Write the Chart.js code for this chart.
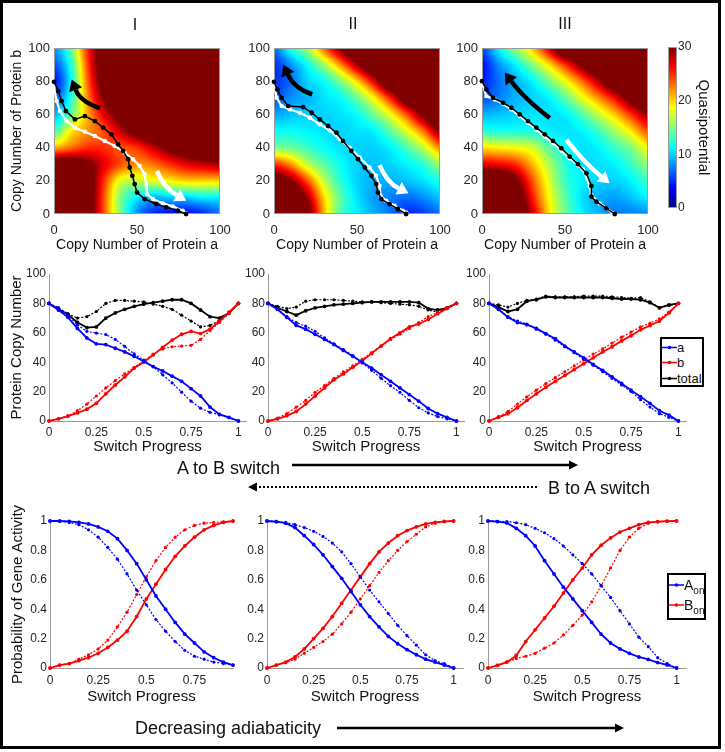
<!DOCTYPE html>
<html>
<head>
<meta charset="utf-8">
<title>Switch progress and quasipotential</title>
<script src="https://cdn.jsdelivr.net/npm/chart.js@4.4.1/dist/chart.umd.min.js"></script>
<style>
  html, body { margin: 0; padding: 0; background: #fff; }
  body { position: relative; width: 725px; height: 752px; overflow: hidden;
         font-family: "Liberation Sans", Arial, Helvetica, sans-serif; color: #111; }
  canvas { position: absolute; }
  .txt { position: absolute; white-space: nowrap; line-height: 1; }
  .mid { transform: translate(-50%, -50%); }
  .left { transform: translateY(-50%); }
  .legend { position: absolute; border: 2px solid #000; background: #fff; }
  .legend .row { position: absolute; left: 0; display: flex; align-items: center;
                 transform: translateY(-50%); white-space: nowrap; line-height: 1; }
  .legend svg { display: block; }
  sub { font-size: 10px; vertical-align: -4px; line-height: 0; }
</style>
</head>
<body>
<canvas id="overlay" width="725" height="752" style="left:0;top:0"></canvas>

<canvas id="heatI"></canvas>
<canvas id="heatII"></canvas>
<canvas id="heatIII"></canvas>
<canvas id="colorbar"></canvas>

<canvas id="copyI"></canvas>
<canvas id="copyII"></canvas>
<canvas id="copyIII"></canvas>

<canvas id="probI"></canvas>
<canvas id="probII"></canvas>
<canvas id="probIII"></canvas>

<div class="txt mid" style="left:135px;top:25px;font-size:16px">I</div>
<div class="txt mid" style="left:353px;top:24px;font-size:16px">II</div>
<div class="txt mid" style="left:565px;top:24px;font-size:16px">III</div>

<div class="txt left" style="left:177px;top:468px;font-size:18px">A to B switch</div>
<div class="txt left" style="left:548px;top:488px;font-size:18px">B to A switch</div>
<div class="txt left" style="left:135px;top:728px;font-size:18px">Decreasing adiabaticity</div>

<div class="legend" style="left:660px;top:337px;width:40px;height:46px;font-size:13px">
  <div class="row" style="top:8px"><svg width="15" height="8"><line x1="0" y1="4" x2="15" y2="4" stroke="#0000ff" stroke-width="1.5"/><circle cx="7.5" cy="4" r="1.8" fill="#0000ff"/></svg><span>a</span></div>
  <div class="row" style="top:23px"><svg width="15" height="8"><line x1="0" y1="4" x2="15" y2="4" stroke="#ff0000" stroke-width="1.5"/><circle cx="7.5" cy="4" r="1.8" fill="#ff0000"/></svg><span>b</span></div>
  <div class="row" style="top:39px"><svg width="15" height="8"><line x1="0" y1="4" x2="15" y2="4" stroke="#000" stroke-width="1.5"/><circle cx="7.5" cy="4" r="1.8" fill="#000"/></svg><span>total</span></div>
</div>

<div class="legend" style="left:667px;top:573px;width:35px;height:43px;font-size:14px">
  <div class="row" style="top:10px"><svg width="15" height="8"><line x1="0" y1="4" x2="15" y2="4" stroke="#0000ff" stroke-width="1.5"/><circle cx="7.5" cy="4" r="1.8" fill="#0000ff"/></svg><span>A<sub>on</sub></span></div>
  <div class="row" style="top:30px"><svg width="15" height="8"><line x1="0" y1="4" x2="15" y2="4" stroke="#ff0000" stroke-width="1.5"/><circle cx="7.5" cy="4" r="1.8" fill="#ff0000"/></svg><span>B<sub>on</sub></span></div>
</div>

<script>
// ---- data -------------------------------------------------------------

// switch progress samples
const progress = [0, 0.05, 0.1, 0.15, 0.2, 0.25, 0.3, 0.35, 0.4, 0.45, 0.5,
                  0.55, 0.6, 0.65, 0.7, 0.75, 0.8, 0.85, 0.9, 0.95, 1];
const progressShort = progress.slice(0, 20);

// tick labels
const heatXTicks = [0, 50, 100];
const heatYTicks = [0, 20, 40, 60, 80, 100];
const barTicks = [0, 10, 20, 30];
const copyTicks = [0, 20, 40, 60, 80, 100];
const probTicks = [0, 0.2, 0.4, 0.6, 0.8, 1];
const progressTicks = [0, 0.25, 0.5, 0.75, 1];
const progressTicksShort = [0, 0.25, 0.5, 0.75];

// quasipotential, rows b = 100 .. 0, columns a = 0 .. 100
const gridLevels = [0, 10, 20, 30, 40, 50, 60, 70, 80, 90, 100];
const QMAX = 30;
const potentialI = [
  [ 8, 14, 25, 33, 35, 35, 35, 35, 35, 35, 35],
  [ 6, 12, 24, 33, 35, 35, 35, 35, 35, 35, 35],
  [ 4, 11, 23, 32, 35, 35, 35, 35, 35, 35, 35],
  [ 6, 12, 22, 30, 35, 35, 35, 35, 35, 35, 35],
  [ 9, 14, 21, 27, 32, 35, 35, 35, 35, 35, 35],
  [13, 19, 22, 24, 28, 32, 35, 35, 35, 35, 35],
  [21, 23, 25, 25, 24, 25, 28, 31, 33, 34, 34],
  [33, 33, 31, 27, 24, 22, 23, 25, 27, 28, 29],
  [35, 35, 33, 25, 18, 17, 18, 19, 20, 20, 20],
  [35, 35, 33, 24, 15, 11,  9, 10, 10, 11, 11],
  [35, 35, 33, 24, 15,  8,  5,  4,  4,  5,  7]
];
const potentialII = [
  [ 7, 12, 16, 23, 30, 35, 35, 35, 35, 35, 35],
  [ 5,  8, 11.5, 16, 22, 29, 35, 35, 35, 35, 35],
  [ 5,  7, 10, 11.5, 15, 20, 27, 35, 35, 35, 35],
  [ 6,  8,  9, 10.5, 11.5, 14.5, 19, 25.5, 33, 35, 35],
  [ 8.5, 9.5, 10, 10, 10.5, 11.5, 14.5, 18.5, 24, 31, 35],
  [11.5, 11.5, 11, 10.5, 10, 10.5, 11, 14, 18, 23, 30],
  [15, 14.5, 13, 11.5, 10.5, 10, 10, 11, 13.5, 17, 22],
  [25, 22, 17, 14, 11.5, 10, 9.5, 10, 11, 12.5, 16],
  [33, 30, 24, 17, 12.5, 10, 9, 9, 9.5, 10.5, 12],
  [35, 35, 29, 20, 14, 10.5, 8.5, 7.5, 7, 8, 9.5],
  [35, 35, 32, 21, 13.5, 11, 9, 7, 5, 5.5, 7]
];
const potentialIII = [
  [ 6, 11, 15.5, 20, 27, 35, 35, 35, 35, 35, 35],
  [ 4,  8, 11, 15, 19.5, 25, 30.5, 35, 35, 35, 35],
  [ 4.5, 7, 9, 11, 14.5, 18.5, 23, 28.5, 34, 35, 35],
  [ 6, 7.5, 9, 10, 11, 14, 18, 22, 26.5, 32, 35],
  [ 9, 9.5, 10, 10.5, 10.5, 11, 13.5, 17, 20.5, 25, 29.5],
  [12.5, 12, 12, 12, 11, 10.5, 11, 13, 16, 19.5, 24],
  [19.5, 19, 18.5, 17.5, 14, 11.5, 10.5, 11, 13, 15, 19],
  [27, 26.5, 25, 21, 16.5, 12.5, 10.5, 10.5, 11, 13, 15.5],
  [35, 35, 31, 24, 18, 13, 11, 10, 10, 11, 13],
  [35, 35, 34, 26, 19, 14, 10.5, 9, 8.5, 9.5, 11],
  [35, 35, 35, 28, 20, 14.5, 11, 9, 7.5, 7.5, 8]
];

// switching trajectories [a, b]
const pathBlackI = [[0,79.6],[2.6,74],[4.6,68],[7.2,62],[12.6,57],[18.6,59],[24.6,56],[29.6,52],[34.6,48],[38.6,42],[41.6,38],[44.6,33],[45.6,28],[47.2,23],[48.6,18],[50,13],[54.6,9],[61.6,6],[67.6,4],[74.6,2],[79.6,0]];
const pathWhiteI = [[0,77],[1.6,68],[3.6,62],[7.6,56],[12.6,52],[18.6,49.6],[24.6,47],[30.6,44],[36.6,41],[42.6,37],[47.6,33],[51.6,29],[54.6,24],[55.6,18],[56,12],[59.6,9],[65.6,6.4],[71.6,4.6],[77.6,2],[79.6,0.4]];
const pathBlackII = [[0,79.6],[2,75],[4.6,70],[8.6,65],[17.6,64.4],[22.6,61],[27.6,57],[32.6,53],[37.6,49],[41.6,44],[46.6,38],[50.6,33],[54.6,28],[58.6,23],[61.6,18],[62.6,13],[64.6,9],[69.6,6],[74.6,3],[79.6,0]];
const pathWhiteII = [[0,78],[1.6,70],[4.6,65],[9.6,63],[15.6,61],[21.6,58],[27.6,54],[33.6,50.4],[39.6,45],[45.6,40],[51.6,34],[57.6,28],[61.6,23],[63.6,17],[64.2,11],[67.6,8],[72.6,5],[77.6,2],[79.6,1]];
const pathBlackIII = [[0,80],[2.6,75],[6.6,70],[12.7,67],[17.7,64],[22.7,60],[27.7,56],[32.7,52],[37.8,48],[42.8,44],[47.8,39.6],[52.8,34.6],[57.8,30],[62.9,24.5],[65.9,16.9],[65.9,10.5],[68.9,7.4],[74.9,3.4],[80,0]];
const pathWhiteIII = [[0,79],[2.6,71],[7.6,69],[12.7,66.4],[17.7,63],[22.7,59],[27.7,55],[32.7,50.7],[37.8,46.7],[42.8,42.7],[47.8,38.2],[52.8,33.6],[57.8,29.3],[60.8,27],[64.9,16.5],[65.9,11.5],[70.9,6.4],[75,3.5],[78.9,0.4]];

// protein copy numbers (Fwd = A to B, Rev = B to A)
const aFwdI   = [80, 75.5, 70.5, 63, 56.5, 52.5, 52, 49.5, 47, 44, 40.5, 37, 34, 30.5, 27, 22, 17, 9.5, 4.5, 2.5, 0];
const aRevI   = [80, 77, 72, 65.4, 61, 59.8, 58.8, 55.5, 50.7, 45.6, 41.4, 37, 31.4, 26, 19.6, 13.5, 8.7, 5.9, 4.2, 2.2, 0];
const bFwdI   = [0, 1.5, 3.3, 5.5, 8, 12, 18.5, 24.5, 30, 36, 40, 45, 50, 55, 59, 61, 59.5, 62.5, 68, 74, 80];
const bRevI   = [0, 1.5, 3.5, 7, 11.5, 17, 22.5, 27.5, 32, 36.5, 41, 45.5, 49, 50.5, 51, 51.5, 55.5, 61.5, 67, 73, 80];
const totFwdI = [80, 76, 72.5, 67, 63.5, 64, 70, 73.5, 76, 78, 79.5, 80.5, 81.5, 82.5, 82.5, 80, 75.5, 71, 70, 73.5, 80];
const totRevI = [80, 77, 73, 70, 71, 74.5, 80, 82, 82, 81.5, 81, 79.5, 78, 76, 72, 68, 64, 65, 68.5, 73.5, 80];

const aFwdII   = [80, 76, 70.5, 65, 62.5, 59, 55.5, 52, 48, 44, 40, 36, 31.5, 27, 22.5, 18, 13.5, 8.5, 5, 2.5, 0];
const aRevII   = [80, 76, 71, 67, 64.5, 61, 56.5, 52.5, 48.5, 44.5, 39.5, 34.5, 29, 24, 19.5, 14, 9, 5.5, 3, 1.5, 0];
const bFwdII   = [0, 1.5, 3.5, 6.5, 11.5, 17, 22.5, 28, 32, 36.5, 41, 46, 51, 56, 60, 64, 66, 69, 73, 76.5, 80];
const bRevII   = [0, 2, 5, 9.5, 14, 19.5, 24, 29, 33.5, 37.5, 42, 46.5, 51, 55.5, 59, 63, 67, 71, 74, 77, 80];
const totFwdII = [80, 77, 74.5, 72, 75, 77, 78, 79, 79.5, 80, 80.5, 81, 81, 81, 81, 81, 80.5, 76.5, 75.5, 77, 80];
const totRevII = [80, 78, 76.5, 77.5, 81.5, 82.5, 82.5, 82.5, 82, 81.5, 81, 81, 80.5, 80, 79.5, 79, 78, 75.5, 74, 76.5, 80];

const aFwdIII   = [80, 76, 70.5, 67, 65.5, 63, 59.5, 56, 51, 47, 43, 38.5, 34.5, 30, 25.5, 21, 16.5, 12, 7, 4, 0];
const aRevIII   = [80, 76, 71, 68, 66, 62.5, 59, 55, 50.5, 46.5, 42, 38, 33.5, 29, 24.5, 20, 14.5, 9.5, 5, 2.5, 0];
const bFwdIII   = [0, 2.5, 5, 9, 14, 18.5, 23, 27, 31, 35, 39, 43, 47, 50.5, 54.5, 58, 62, 65, 68, 73.5, 80];
const bRevIII   = [0, 3, 6.5, 11.5, 16.5, 21, 25.5, 29.5, 33.5, 37.5, 41.5, 45.5, 49, 53, 57, 60.5, 64, 66.5, 69.5, 74, 80];
const totFwdIII = [80, 77.5, 74.5, 76, 81.5, 82.5, 84.5, 84, 84, 84, 84, 84, 84, 83.5, 83, 83, 82.5, 80.5, 77, 79, 80];
const totRevIII = [80, 79, 77.5, 80, 82, 83, 85, 84.5, 84.5, 84.5, 85, 85, 85, 84.5, 84, 83.5, 84, 81, 77, 78.5, 80];

// probability of gene activity
const aOnFwdI = [1.0, 1.0, 0.997, 0.99, 0.98, 0.96, 0.93, 0.88, 0.80, 0.71, 0.60, 0.49, 0.40, 0.31, 0.23, 0.17, 0.11, 0.07, 0.04, 0.02];
const aOnRevI = [1.0, 0.998, 0.99, 0.975, 0.94, 0.89, 0.82, 0.74, 0.64, 0.53, 0.43, 0.33, 0.25, 0.18, 0.12, 0.08, 0.06, 0.04, 0.03, 0.02];
const bOnFwdI = [0, 0.02, 0.03, 0.05, 0.07, 0.10, 0.14, 0.19, 0.25, 0.35, 0.47, 0.57, 0.67, 0.76, 0.83, 0.89, 0.94, 0.97, 0.99, 1.0];
const bOnRevI = [0, 0.02, 0.03, 0.06, 0.09, 0.13, 0.19, 0.28, 0.38, 0.50, 0.62, 0.73, 0.82, 0.89, 0.94, 0.97, 0.985, 0.99, 0.995, 1.0];

const aOnFwdII = [1.0, 0.995, 0.985, 0.955, 0.90, 0.84, 0.77, 0.69, 0.61, 0.52, 0.43, 0.35, 0.28, 0.215, 0.165, 0.125, 0.09, 0.06, 0.04, 0.02, 0.0];
const aOnRevII = [1.0, 0.997, 0.99, 0.975, 0.955, 0.93, 0.895, 0.85, 0.79, 0.71, 0.62, 0.53, 0.45, 0.37, 0.29, 0.22, 0.155, 0.09, 0.05, 0.03, 0.0];
const bOnFwdII = [0, 0.02, 0.04, 0.075, 0.13, 0.2, 0.27, 0.35, 0.44, 0.53, 0.62, 0.71, 0.79, 0.85, 0.90, 0.935, 0.96, 0.98, 0.99, 0.997, 1.0];
const bOnRevII = [0, 0.02, 0.035, 0.06, 0.1, 0.14, 0.18, 0.23, 0.3, 0.38, 0.47, 0.56, 0.65, 0.73, 0.80, 0.86, 0.91, 0.96, 0.985, 0.995, 1.0];

const aOnFwdIII = [1.0, 0.996, 0.987, 0.95, 0.90, 0.83, 0.73, 0.64, 0.55, 0.47, 0.39, 0.31, 0.23, 0.17, 0.13, 0.10, 0.075, 0.058, 0.037, 0.021, 0.0];
const aOnRevIII = [1.0, 0.998, 0.996, 0.988, 0.975, 0.95, 0.92, 0.88, 0.83, 0.77, 0.71, 0.64, 0.56, 0.48, 0.39, 0.30, 0.21, 0.145, 0.07, 0.03, 0.0];
const bOnFwdIII = [0, 0.018, 0.04, 0.085, 0.18, 0.26, 0.34, 0.42, 0.51, 0.60, 0.68, 0.77, 0.835, 0.885, 0.925, 0.95, 0.975, 0.99, 0.995, 0.999, 1.0];
const bOnRevIII = [0, 0.02, 0.04, 0.065, 0.08, 0.10, 0.135, 0.17, 0.225, 0.29, 0.36, 0.45, 0.56, 0.68, 0.80, 0.89, 0.95, 0.985, 0.995, 0.999, 1.0];

// big curved arrows on the landscapes, in [a, b]
const arrowsI = [
  { from: [27.7, 63.8], via: [16, 67.5], to: [10.6, 81], color: '#000' },
  { from: [62, 26], via: [66, 16], to: [79.6, 8], color: '#fff' }
];
const arrowsII = [
  { from: [23, 72], via: [12, 76], to: [5.6, 90], color: '#000' },
  { from: [63.6, 29.5], via: [68, 19], to: [81, 12.5], color: '#fff' }
];
const arrowsIII = [
  { from: [40.8, 57.8], via: [25, 70], to: [13.7, 85.3], color: '#000' },
  { from: [50.8, 44.7], via: [62, 30.5], to: [76.9, 18.5], color: '#fff' }
];

// ---- look ----------------------------------------------------------------

Chart.defaults.font.family = '"Liberation Sans", Arial, Helvetica, sans-serif';
const INK = '#111111';
const TICK = '#262626';
const AXIS = '#9a9a9a';
const BLUE = '#0000ff';
const RED = '#ff0000';
const BLACK = '#000000';
const PAD_T = 16;
const PAD_R = 24;
const NO_GRID = { display: false, drawTicks: false };

// size and position a canvas so its plot area lands on `area`
function place(id, area, yw, xh) {
  const cv = document.getElementById(id);
  cv.width = Math.round(yw + (area.right - area.left) + PAD_R);
  cv.height = Math.round(PAD_T + (area.bottom - area.top) + xh);
  cv.style.left = (area.left - yw) + 'px';
  cv.style.top = (area.top - PAD_T) + 'px';
  return cv;
}

// matlab jet colormap
function jet(t) {
  t = Math.min(Math.max(t, 0), 1);
  const f = v => Math.round(255 * Math.min(Math.max(v, 0), 1));
  return [f(1.5 - Math.abs(4 * t - 3)), f(1.5 - Math.abs(4 * t - 2)), f(1.5 - Math.abs(4 * t - 1))];
}

// smooth (catmull-rom) read of the grid between its nodes
function cubic(p0, p1, p2, p3, t) {
  return p1 + 0.5 * t * (p2 - p0 + t * (2 * p0 - 5 * p1 + 4 * p2 - p3 + t * (3 * (p1 - p2) + p3 - p0)));
}
function sampleGrid(grid, a, b) {
  const n = gridLevels.length - 1;
  const step = gridLevels[1] - gridLevels[0];
  const top = gridLevels[n];
  const gx = Math.min(Math.max(a / step, 0), n);
  const gy = Math.min(Math.max((top - b) / step, 0), n);
  const i = Math.min(Math.floor(gx), n - 1);
  const j = Math.min(Math.floor(gy), n - 1);
  const fx = gx - i, fy = gy - j;
  const cl = k => Math.min(Math.max(k, 0), n);
  const rows = [-1, 0, 1, 2].map(d => {
    const r = grid[cl(j + d)];
    return cubic(r[cl(i - 1)], r[i], r[i + 1], r[cl(i + 2)], fx);
  });
  return cubic(rows[0], rows[1], rows[2], rows[3], fy);
}

// paints the quasipotential field under the trajectories
const fieldPlugin = {
  id: 'field',
  beforeDatasetsDraw(chart, args, opts) {
    const { ctx, chartArea: ca, scales: { x, y } } = chart;
    const x0 = Math.round(ca.left), y0 = Math.round(ca.top);
    const w = Math.round(ca.right) - x0, h = Math.round(ca.bottom) - y0;
    const img = ctx.createImageData(w, h);
    for (let j = 0; j < h; j++) {
      const b = y.getValueForPixel(y0 + j + 0.5);
      for (let i = 0; i < w; i++) {
        const a = x.getValueForPixel(x0 + i + 0.5);
        const c = jet(sampleGrid(opts.grid, a, b) / QMAX);
        const k = 4 * (j * w + i);
        img.data[k] = c[0];
        img.data[k + 1] = c[1];
        img.data[k + 2] = c[2];
        img.data[k + 3] = 255;
      }
    }
    ctx.putImageData(img, x0, y0);
    ctx.save();
    ctx.strokeStyle = AXIS;
    ctx.lineWidth = 1;
    ctx.strokeRect(x0 + 0.5, y0 + 0.5, w - 1, h - 1);
    ctx.restore();
  }
};

const arrowPlugin = {
  id: 'arrows',
  afterDatasetsDraw(chart, args, opts) {
    const { ctx, scales: { x, y } } = chart;
    const px = p => ({ x: x.getPixelForValue(p[0]), y: y.getPixelForValue(p[1]) });
    (opts.list || []).forEach(ar => {
      const p0 = px(ar.from), c = px(ar.via), p2 = px(ar.to);
      const ang = Math.atan2(p2.y - c.y, p2.x - c.x);
      const hl = 11, hw = 7;
      const bx = p2.x - hl * Math.cos(ang), by = p2.y - hl * Math.sin(ang);
      ctx.save();
      ctx.strokeStyle = ar.color;
      ctx.fillStyle = ar.color;
      ctx.lineWidth = 4.5;
      ctx.beginPath();
      ctx.moveTo(p0.x, p0.y);
      ctx.quadraticCurveTo(c.x, c.y, bx, by);
      ctx.stroke();
      ctx.beginPath();
      ctx.moveTo(p2.x, p2.y);
      ctx.lineTo(bx + hw * Math.sin(ang), by - hw * Math.cos(ang));
      ctx.lineTo(bx - hw * Math.sin(ang), by + hw * Math.cos(ang));
      ctx.closePath();
      ctx.fill();
      ctx.restore();
    });
  }
};

const barPlugin = {
  id: 'colorbar',
  beforeDatasetsDraw(chart) {
    const { ctx, chartArea: ca, scales: { y } } = chart;
    for (let py = Math.round(ca.top); py < Math.round(ca.bottom); py++) {
      const c = jet(y.getValueForPixel(py + 0.5) / QMAX);
      ctx.fillStyle = `rgb(${c[0]},${c[1]},${c[2]})`;
      ctx.fillRect(ca.left, py, ca.right - ca.left, 1);
    }
    ctx.strokeStyle = AXIS;
    ctx.lineWidth = 1;
    ctx.strokeRect(ca.left + 0.5, ca.top + 0.5, ca.right - ca.left - 1, ca.bottom - ca.top - 1);
  }
};

// ---- builders ------------------------------------------------------------

function pathSet(pts, color, width, radius) {
  return {
    data: pts.map(p => ({ x: p[0], y: p[1] })),
    showLine: true,
    borderColor: color,
    borderWidth: width,
    pointRadius: radius,
    pointBackgroundColor: color,
    pointBorderWidth: 0,
    clip: false
  };
}

function lineSet(xs, ys, color, dotted) {
  return {
    data: ys.map((v, i) => ({ x: xs[i], y: v })),
    borderColor: color,
    backgroundColor: color,
    borderWidth: dotted ? 1.2 : 1.8,
    borderDash: dotted ? [2, 1.6] : [],
    pointRadius: dotted ? 1.6 : 1.9,
    pointBorderWidth: 0,
    pointBackgroundColor: color,
    tension: 0,
    fill: false,
    clip: false
  };
}

function heatmap(id, area, grid, black, white, arrows, yTitle) {
  const yw = 54, xh = 42;
  const cv = place(id, area, yw, xh);
  return new Chart(cv, {
    type: 'scatter',
    data: { datasets: [pathSet(black, '#000', 1.5, 2.4), pathSet(white, '#fff', 2.2, 2.2)] },
    options: {
      responsive: false,
      animation: false,
      layout: { padding: { top: PAD_T, right: PAD_R, left: 0, bottom: 0 } },
      plugins: {
        legend: { display: false },
        tooltip: { enabled: false },
        field: { grid },
        arrows: { list: arrows }
      },
      scales: {
        x: {
          type: 'linear', min: 0, max: 100,
          afterBuildTicks: s => { s.ticks = heatXTicks.map(v => ({ value: v })); },
          afterFit: s => { s.height = xh; },
          grid: NO_GRID,
          border: { display: false },
          ticks: { autoSkip: false, maxRotation: 0, padding: 9, color: TICK, font: { size: 13 } },
          title: { display: true, text: 'Copy Number of Protein a', color: INK,
                   font: { size: 14 }, padding: { top: 0, bottom: 2 } }
        },
        y: {
          type: 'linear', min: 0, max: 100,
          afterBuildTicks: s => { s.ticks = heatYTicks.map(v => ({ value: v })); },
          afterFit: s => { s.width = yw; },
          grid: NO_GRID,
          border: { display: false },
          ticks: { autoSkip: false, padding: 4, color: TICK, font: { size: 13 } },
          title: { display: !!yTitle, text: yTitle || '', color: INK,
                   font: { size: 14 }, padding: { top: 9, bottom: 0 } }
        }
      }
    },
    plugins: [fieldPlugin, arrowPlugin]
  });
}

function profile(id, area, xmax, xTicks, yTicks, yFmt, sets, o) {
  const cv = place(id, area, o.yw, o.xh);
  return new Chart(cv, {
    type: 'line',
    data: { datasets: sets },
    options: {
      responsive: false,
      animation: false,
      layout: { padding: { top: PAD_T, right: PAD_R, left: 0, bottom: 0 } },
      plugins: { legend: { display: false }, tooltip: { enabled: false } },
      scales: {
        x: {
          type: 'linear', min: 0, max: xmax,
          afterBuildTicks: s => { s.ticks = xTicks.map(v => ({ value: v })); },
          afterFit: s => { s.height = o.xh; },
          grid: NO_GRID,
          border: { color: AXIS, width: 1 },
          ticks: { autoSkip: false, maxRotation: 0, padding: o.xPad, color: TICK,
                   font: { size: 12 }, callback: v => String(v) },
          title: { display: true, text: 'Switch Progress', color: INK,
                   font: { size: 15 }, padding: { top: 0, bottom: 2 } }
        },
        y: {
          type: 'linear', min: 0, max: yTicks[yTicks.length - 1],
          afterBuildTicks: s => { s.ticks = yTicks.map(v => ({ value: v })); },
          afterFit: s => { s.width = o.yw; },
          grid: NO_GRID,
          border: { color: AXIS, width: 1 },
          ticks: { autoSkip: false, padding: 3, color: TICK, font: { size: 12 }, callback: yFmt },
          title: { display: !!o.yTitle, text: o.yTitle || '', color: INK,
                   font: { size: 15 }, padding: { top: o.yTitlePad || 0, bottom: 0 } }
        }
      }
    }
  });
}

function copySets(xs, aF, aR, bF, bR, tF, tR) {
  return [
    lineSet(xs, aF, BLUE, false), lineSet(xs, aR, BLUE, true),
    lineSet(xs, bF, RED, false), lineSet(xs, bR, RED, true),
    lineSet(xs, tF, BLACK, false), lineSet(xs, tR, BLACK, true)
  ];
}

function probSets(xs, aF, aR, bF, bR) {
  return [
    lineSet(xs, aF, BLUE, false), lineSet(xs, aR, BLUE, true),
    lineSet(xs, bF, RED, false), lineSet(xs, bR, RED, true)
  ];
}

// ---- top row: landscapes -------------------------------------------------

heatmap('heatI', { left: 54, right: 220, top: 48, bottom: 214 }, potentialI,
        pathBlackI, pathWhiteI, arrowsI, 'Copy Number of Protein b');
heatmap('heatII', { left: 274, right: 440, top: 48, bottom: 214 }, potentialII,
        pathBlackII, pathWhiteII, arrowsII, null);
heatmap('heatIII', { left: 482, right: 648, top: 48, bottom: 214 }, potentialIII,
        pathBlackIII, pathWhiteIII, arrowsIII, null);

(function colorbar() {
  const area = { left: 668, right: 677, top: 47, bottom: 208 };
  const cv = document.getElementById('colorbar');
  const axisW = 43;
  cv.width = (area.right - area.left) + axisW;
  cv.height = PAD_T + (area.bottom - area.top) + PAD_T;
  cv.style.left = area.left + 'px';
  cv.style.top = (area.top - PAD_T) + 'px';
  new Chart(cv, {
    type: 'scatter',
    data: { datasets: [] },
    options: {
      responsive: false,
      animation: false,
      layout: { padding: { top: PAD_T, bottom: PAD_T, left: 0, right: 0 } },
      plugins: { legend: { display: false }, tooltip: { enabled: false } },
      scales: {
        x: { display: false, min: 0, max: 1 },
        y: {
          position: 'right', min: 0, max: QMAX,
          afterBuildTicks: s => { s.ticks = barTicks.map(v => ({ value: v })); },
          afterFit: s => { s.width = axisW; },
          grid: NO_GRID,
          border: { display: false },
          ticks: { autoSkip: false, padding: 1, color: TICK, font: { size: 12 } },
          title: { display: true, text: 'Quasipotential', color: INK,
                   font: { size: 15 }, padding: { top: 8, bottom: 0 } }
        }
      }
    },
    plugins: [barPlugin]
  });
})();

// ---- middle row: copy numbers --------------------------------------------

const copyFmt = v => String(v);
profile('copyI', { left: 49, right: 246, top: 274, bottom: 421 }, 1.04, progressTicks, copyTicks, copyFmt,
        copySets(progress, aFwdI, aRevI, bFwdI, bRevI, totFwdI, totRevI),
        { yw: 49, xh: 37, xPad: 4, yTitle: 'Protein Copy Number', yTitlePad: 8 });
profile('copyII', { left: 268, right: 464, top: 274, bottom: 421 }, 1.04, progressTicks, copyTicks, copyFmt,
        copySets(progress, aFwdII, aRevII, bFwdII, bRevII, totFwdII, totRevII),
        { yw: 49, xh: 37, xPad: 4 });
profile('copyIII', { left: 489, right: 686, top: 274, bottom: 421 }, 1.04, progressTicks, copyTicks, copyFmt,
        copySets(progress, aFwdIII, aRevIII, bFwdIII, bRevIII, totFwdIII, totRevIII),
        { yw: 49, xh: 37, xPad: 4 });

// ---- bottom row: gene activity -------------------------------------------

const probFmt = v => String(Math.round(v * 10) / 10);
profile('probI', { left: 50, right: 233, top: 521, bottom: 668 }, 0.95, progressTicksShort, probTicks, probFmt,
        probSets(progressShort, aOnFwdI, aOnRevI, bOnFwdI, bOnRevI),
        { yw: 50, xh: 40, xPad: 5, yTitle: 'Probability of Gene Activity', yTitlePad: 9 });
profile('probII', { left: 267, right: 463, top: 521, bottom: 668 }, 1.05, progressTicks, probTicks, probFmt,
        probSets(progress, aOnFwdII, aOnRevII, bOnFwdII, bOnRevII),
        { yw: 50, xh: 40, xPad: 5 });
profile('probIII', { left: 488, right: 686, top: 521, bottom: 668 }, 1.05, progressTicks, probTicks, probFmt,
        probSets(progress, aOnFwdIII, aOnRevIII, bOnFwdIII, bOnRevIII),
        { yw: 50, xh: 40, xPad: 5 });

// ---- frame and direction arrows ------------------------------------------

function hArrow(ctx, x0, x1, y, width, dash) {
  const dir = Math.sign(x1 - x0), hl = 9, hw = 4.5;
  ctx.save();
  ctx.lineWidth = width;
  ctx.setLineDash(dash || []);
  ctx.beginPath();
  ctx.moveTo(x0, y);
  ctx.lineTo(x1 - dir * hl, y);
  ctx.stroke();
  ctx.setLineDash([]);
  ctx.beginPath();
  ctx.moveTo(x1, y);
  ctx.lineTo(x1 - dir * hl, y - hw);
  ctx.lineTo(x1 - dir * hl, y + hw);
  ctx.closePath();
  ctx.fill();
  ctx.restore();
}

(function drawOverlay() {
  const ctx = document.getElementById('overlay').getContext('2d');
  ctx.strokeStyle = '#000';
  ctx.fillStyle = '#000';
  ctx.lineWidth = 3;
  ctx.strokeRect(1.5, 1.5, 718, 746);
  hArrow(ctx, 292, 578, 465, 2.6, null);
  hArrow(ctx, 537, 248, 487, 2, [2, 2]);
  hArrow(ctx, 337, 624, 728, 2.6, null);
})();
</script>
</body>
</html>
